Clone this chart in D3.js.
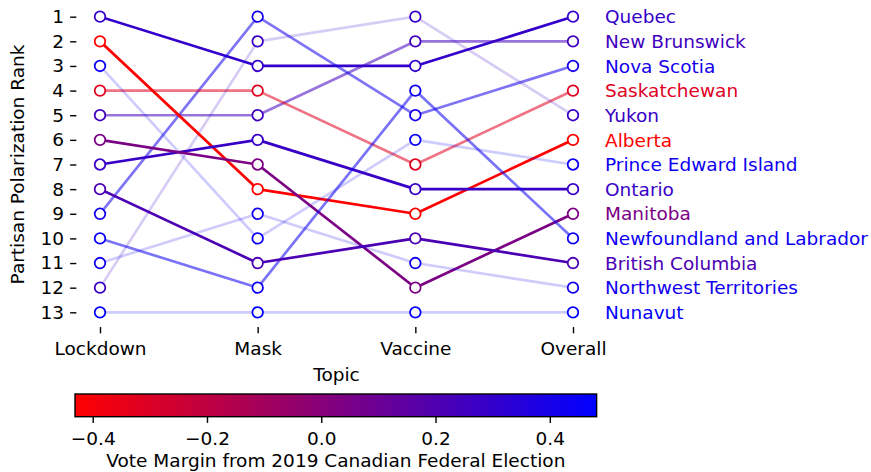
<!DOCTYPE html>
<html>
<head>
<meta charset="utf-8">
<script src="https://cdn.jsdelivr.net/npm/d3@7"></script>
<style>
  html, body { margin: 0; padding: 0; background: #fff; }
  svg { display: block; font-family: "DejaVu Sans", sans-serif; }
</style>
</head>
<body>
<svg id="chart" width="871" height="472"></svg>
<script>
// ---------------- data ----------------
const topics = ["Lockdown", "Mask", "Vaccine", "Overall"];
const provinces = ["Quebec", "New Brunswick", "Nova Scotia", "Saskatchewan", "Yukon", "Alberta",
  "Prince Edward Island", "Ontario", "Manitoba", "Newfoundland and Labrador", "British Columbia",
  "Northwest Territories", "Nunavut"];
const lockdownRank = [1, 5, 9, 4, 12, 2, 3, 7, 6, 10, 8, 11, 13];
const maskRank     = [3, 5, 1, 4, 2, 8, 10, 6, 7, 12, 11, 9, 13];
const vaccineRank  = [3, 2, 5, 7, 1, 9, 6, 8, 12, 4, 10, 11, 13];
const overallRank  = [1, 2, 3, 4, 5, 6, 7, 8, 9, 10, 11, 12, 13];
const voteMargin   = [0.30, 0.25, 0.41, -0.32, 0.28, -0.43, 0.44, 0.28, 0.04, 0.44, 0.21, 0.42, 0.48];
const lineAlpha    = [1.0, 0.55, 0.55, 0.55, 0.2, 1.0, 0.2, 1.0, 1.0, 0.55, 1.0, 0.2, 0.2];
const rankTicks = d3.range(1, 14);
const cbarTicks = [-0.4, -0.2, 0.0, 0.2, 0.4];
const cbarDomain = [-0.431, 0.482];

// ---------------- layout ----------------
const svg = d3.select("#chart");
const FS = 18.5;
const axL = 76.35, axR = 596.65, axT = 1.9, axB = 327.1;

const x = d3.scaleLinear().domain([-0.15, 3.15]).range([axL, axR]);
const y = d3.scaleLinear().domain([0.4, 13.6]).range([axT, axB]);
const color = d3.scaleLinear().domain(cbarDomain).range(["#ff0000", "#0000ff"]).interpolate(d3.interpolateRgb);

// y axis
const yAxis = d3.axisLeft(y).tickValues(rankTicks).tickSize(6.2).tickPadding(6.2).tickFormat(d3.format("d"));
const gy = svg.append("g").attr("transform", `translate(${axL},0)`).call(yAxis);
gy.select(".domain").remove();
gy.selectAll(".tick line").attr("stroke", "#000").attr("stroke-width", 1.4);
gy.selectAll(".tick text").attr("font-size", FS).attr("fill", "#000").attr("font-family", "DejaVu Sans");

// x axis
const xAxis = d3.axisBottom(x).tickValues([0, 1, 2, 3]).tickSize(6.2).tickPadding(8.8).tickFormat(i => topics[i]);
const gx = svg.append("g").attr("transform", `translate(0,${axB})`).call(xAxis);
gx.select(".domain").remove();
gx.selectAll(".tick line").attr("stroke", "#000").attr("stroke-width", 1.4);
gx.selectAll(".tick text").attr("font-size", FS).attr("fill", "#000").attr("font-family", "DejaVu Sans");

// axis labels
svg.append("text").attr("x", (axL + axR) / 2).attr("y", 380.5).attr("text-anchor", "middle")
  .attr("font-size", FS).text("Topic");
svg.append("text").attr("transform", `translate(24,${(axT + axB) / 2}) rotate(-90)`)
  .attr("text-anchor", "middle").attr("font-size", FS).text("Partisan Polarization Rank");

// lines & markers
const plot = svg.append("g");
const line = d3.line().x((d, i) => x(i)).y(d => y(d));
provinces.forEach((p, k) => {
  const ranks = [lockdownRank[k], maskRank[k], vaccineRank[k], overallRank[k]];
  const c = color(voteMargin[k]);
  plot.append("path").attr("d", line(ranks)).attr("fill", "none")
    .attr("stroke", c).attr("stroke-opacity", lineAlpha[k]).attr("stroke-width", 2.67)
    .attr("stroke-linejoin", "round").attr("stroke-linecap", "square");
  plot.selectAll(null).data(ranks).enter().append("circle")
    .attr("cx", (d, i) => x(i)).attr("cy", d => y(d)).attr("r", 5.3)
    .attr("fill", "#fff").attr("stroke", c).attr("stroke-width", 1.78);
  svg.append("text").attr("x", 605).attr("y", y(overallRank[k])).attr("dy", "0.36em")
    .attr("font-size", FS).attr("fill", c).text(p);
});

// colorbar
const cbT = 394, cbB = 416.7;
const cbL = 75, cbR = 596.65;
const cx = d3.scaleLinear().domain(cbarDomain).range([cbL, cbR]);
const defs = svg.append("defs");
const grad = defs.append("linearGradient").attr("id", "cbgrad").attr("x1", "0%").attr("x2", "100%");
grad.append("stop").attr("offset", "0%").attr("stop-color", color(cbarDomain[0]));
grad.append("stop").attr("offset", "100%").attr("stop-color", color(cbarDomain[1]));
svg.append("rect").attr("x", cbL).attr("y", cbT).attr("width", cbR - cbL).attr("height", cbB - cbT)
  .attr("fill", "url(#cbgrad)").attr("stroke", "#000").attr("stroke-width", 1.4);
const cAxis = d3.axisBottom(cx).tickValues(cbarTicks).tickSize(6.2).tickPadding(8.8)
  .tickFormat(d => d3.format(".1f")(d).replace("-", "\u2212"));
const gc = svg.append("g").attr("transform", `translate(0,${cbB})`).call(cAxis);
gc.select(".domain").remove();
gc.selectAll(".tick line").attr("stroke", "#000").attr("stroke-width", 1.4);
gc.selectAll(".tick text").attr("font-size", FS).attr("fill", "#000").attr("font-family", "DejaVu Sans");
svg.append("text").attr("x", (cbL + cbR) / 2).attr("y", 467.3).attr("text-anchor", "middle")
  .attr("font-size", FS).text("Vote Margin from 2019 Canadian Federal Election");
</script>
</body>
</html>
